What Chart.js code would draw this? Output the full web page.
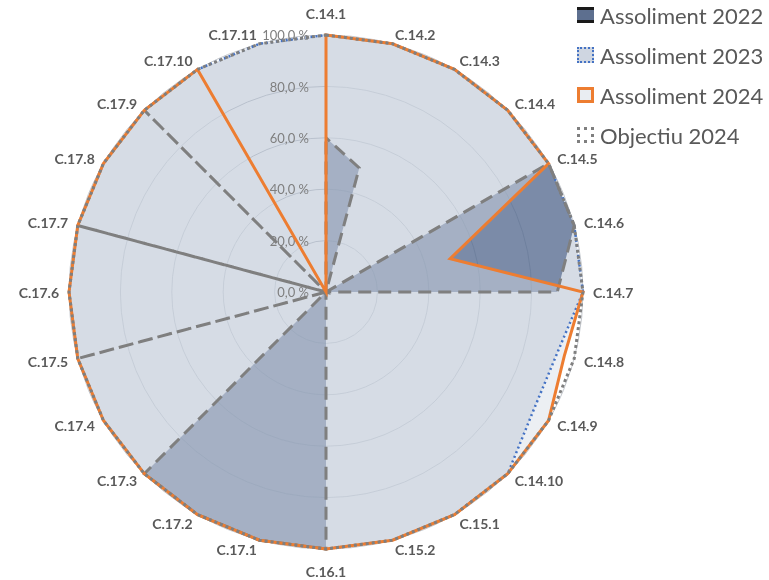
<!DOCTYPE html>
<html>
<head>
<meta charset="utf-8">
<title>Assoliment</title>
<script src="https://cdn.jsdelivr.net/npm/chart.js@4"></script>
<style>
  body { margin: 0; background: #fff; }
  #wrap { position: relative; width: 769px; height: 580px; }
  #myChart { position: absolute; left: 0; top: 0; }
  #legend { position: absolute; left: 577px; top: 0; font-family: Lato, sans-serif; font-size: 22px; color: #595959; }
  .item { position: absolute; left: 0; height: 30px; display: flex; align-items: center; white-space: nowrap; }
  .box { width: 17px; height: 16px; box-sizing: border-box; margin-right: 6px; }
</style>
</head>
<body>
<div id="wrap">
  <canvas id="myChart" width="652" height="580"></canvas>
  <div id="legend"></div>
</div>
<script>
var categories = ['C.14.1', 'C.14.2', 'C.14.3', 'C.14.4', 'C.14.5', 'C.14.6', 'C.14.7', 'C.14.8', 'C.14.9', 'C.14.10',
  'C.15.1', 'C.15.2', 'C.16.1',
  'C.17.1', 'C.17.2', 'C.17.3', 'C.17.4', 'C.17.5', 'C.17.6', 'C.17.7', 'C.17.8', 'C.17.9', 'C.17.10', 'C.17.11'];

var seriesNames = ['Assoliment 2022', 'Assoliment 2023', 'Assoliment 2024', 'Objectiu 2024'];

var assoliment2022 = [60, 50, 0, 0, 100, 100, 90, 0, 0, 0,
  0, 0, 100,
  100, 100, 100, 0, 100, 0, 100, 0, 100, 0, 0];
var assoliment2023 = [100, 100, 100, 100, 100, 100, 100, 93, 93, 100,
  100, 100, 100,
  100, 100, 100, 100, 100, 100, 100, 100, 100, 100, 100];
var assoliment2024 = [100, 100, 100, 100, 100, 50, 100, 96, 100, 100,
  100, 100, 100,
  100, 100, 100, 100, 100, 100, 100, 100, 100, 100, 0];
var objectiu2024 = [100, 100, 100, 100, 100, 100, 100, 100, 100, 100,
  100, 100, 100,
  100, 100, 100, 100, 100, 100, 100, 100, 100, 100, 100];

var tickValues = [0, 20, 40, 60, 80, 100];

var dash2022 = [13, 7];

function formatTick(v) {
  return v.toFixed(1).replace('.', ',') + ' %';
}

/* tick labels left of the vertical axis, category labels placed Excel-style */
var axisText = {
  id: 'axisText',
  beforeDatasetsDraw: function (chart) {
    var scale = chart.scales.r;
    var ctx = chart.ctx;
    ctx.save();
    ctx.font = '13px Lato';
    ctx.fillStyle = '#7f7f7f';
    ctx.textAlign = 'right';
    ctx.textBaseline = 'middle';
    tickValues.forEach(function (v) {
      var r = scale.getDistanceFromCenterForValue(v);
      ctx.fillText(formatTick(v), scale.xCenter - 17, scale.yCenter - r + 1);
    });
    ctx.restore();
  },
  afterDraw: function (chart) {
    var scale = chart.scales.r;
    var ctx = chart.ctx;
    var n = categories.length;
    ctx.save();
    ctx.font = 'bold 14px Lato';
    ctx.fillStyle = '#595959';
    ctx.textBaseline = 'middle';
    categories.forEach(function (label, i) {
      var p;
      if (i === 0 || i === n / 2) {
        p = scale.getPointPosition(i, scale.drawingArea + 22);
        ctx.textAlign = 'center';
      } else {
        p = scale.getPointPosition(i, scale.drawingArea + 10);
        ctx.textAlign = i < n / 2 ? 'left' : 'right';
      }
      ctx.fillText(label, p.x, p.y + 1);
    });
    ctx.restore();
  }
};

var myChart = new Chart(document.getElementById('myChart'), {
  type: 'radar',
  data: {
    labels: categories,
    datasets: [{
      label: seriesNames[0],
      data: assoliment2022,
      backgroundColor: 'rgba(61, 85, 127, 0.6)',
      borderColor: '#7f7f7f',
      borderWidth: 3,
      borderDash: dash2022,
      fill: true,
      order: 2
    }, {
      label: seriesNames[1],
      data: assoliment2023,
      backgroundColor: 'rgba(173, 185, 203, 0.5)',
      borderColor: '#4472c4',
      borderWidth: 2.5,
      borderDash: [2, 3],
      fill: true,
      order: 3
    }, {
      label: seriesNames[2],
      data: assoliment2024,
      backgroundColor: 'rgba(214, 220, 229, 0.46)',
      borderColor: '#ed7d31',
      borderWidth: 3,
      fill: true,
      order: 1
    }, {
      label: seriesNames[3],
      data: objectiu2024,
      backgroundColor: 'rgba(0, 0, 0, 0)',
      borderColor: '#7f7f7f',
      borderWidth: 3,
      borderDash: [3, 3],
      fill: false,
      order: 0
    }]
  },
  options: {
    responsive: false,
    animation: false,
    events: [],
    layout: { padding: { top: 35, bottom: 31 } },
    elements: {
      point: { radius: 0, hoverRadius: 0 },
      line: { tension: 0 }
    },
    plugins: {
      legend: { display: false },
      tooltip: { enabled: false },
      filler: { drawTime: 'beforeDatasetsDraw' }
    },
    scales: {
      r: {
        min: 0,
        max: 100,
        ticks: { stepSize: 20, display: false },
        grid: { circular: true, color: '#c4c8ce' },
        angleLines: { display: false },
        pointLabels: { display: false }
      }
    }
  },
  plugins: [axisText]
});

/* the out-and-back spike to C.17.7 reads as a solid line in the original:
   shift the dash phase so both passes fill each other's gaps there */
function spikeDashOffset(chart) {
  var pts = chart.getDatasetMeta(0).data;
  var scale = chart.scales.r;
  var s = 0;
  for (var i = 1; i <= 18; i++) {
    s += Math.hypot(pts[i].x - pts[i - 1].x, pts[i].y - pts[i - 1].y);
  }
  var R = Math.hypot(pts[19].x - scale.xCenter, pts[19].y - scale.yCenter);
  var half = (dash2022[0] + dash2022[1]) / 2;
  var off = ((dash2022[0] - dash2022[1]) / 4 - s - R) % half;
  if (off < 0) off += half;
  return off;
}
myChart.data.datasets[0].borderDashOffset = spikeDashOffset(myChart);
myChart.update();

/* legend */
var legendBoxes = [
  'background:#5d6f8f;border-top:3px solid #1a1a1a;border-bottom:3px solid #1a1a1a;',
  'background:#cfd6e1;border:2.5px dotted #4472c4;',
  'background:#e9edf2;border:3px solid #ed7d31;',
  'background:#fff;border:3px dotted #7f7f7f;'
];
var legend = document.getElementById('legend');
seriesNames.forEach(function (name, i) {
  var item = document.createElement('div');
  item.className = 'item';
  item.style.top = (i * 40) + 'px';
  item.innerHTML = '<span class="box" style="' + legendBoxes[i] + '"></span><span>' + name + '</span>';
  legend.appendChild(item);
});
</script>
</body>
</html>
